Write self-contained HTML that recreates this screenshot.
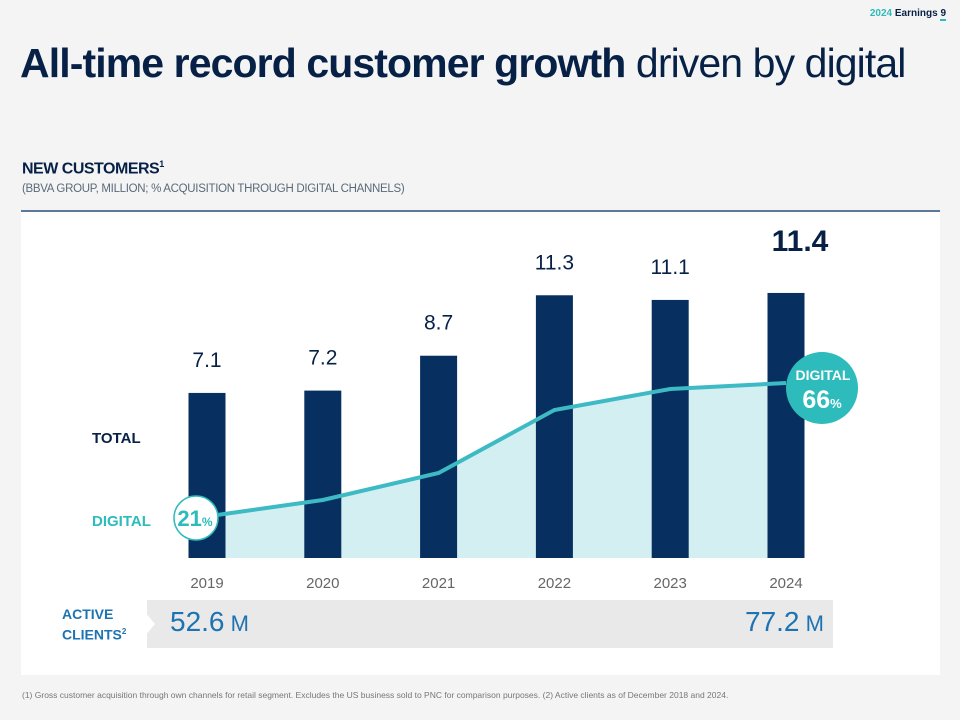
<!DOCTYPE html>
<html><head><meta charset="utf-8"><style>
body{margin:0;width:960px;height:720px;background:#f4f4f4;font-family:"Liberation Sans",sans-serif;position:relative;overflow:hidden}
.a{position:absolute}
</style></head><body>
<div class="a" style="right:14px;top:8px;font-size:10px;font-weight:bold;color:#072146"><span style="color:#2dbbbb">2024</span> Earnings <span style="border-bottom:2px solid #2dbbbb">9</span></div>
<div class="a" style="left:20px;top:40px;font-size:41px;color:#072146;letter-spacing:-0.9px"><b>All-time record customer growth</b> driven by digital</div>
<div class="a" style="left:22px;top:159px;font-size:16px;font-weight:bold;color:#072146;letter-spacing:-0.5px">NEW CUSTOMERS<sup style="font-size:9px">1</sup></div>
<div class="a" style="left:22px;top:183px;font-size:11.5px;color:#5a6a7a;letter-spacing:-0.3px">(BBVA GROUP, MILLION; % ACQUISITION THROUGH DIGITAL CHANNELS)</div>
<div class="a" style="left:21px;top:210px;width:919px;height:463px;background:#fff;border-top:2px solid #5b7a9a"></div>
<svg class="a" style="left:0;top:0" width="960" height="720" id="chart"></svg>
<div class="a" style="left:92px;top:430px;font-size:15px;font-weight:bold;color:#072146">TOTAL</div>
<div class="a" style="left:92px;top:513px;font-size:15px;font-weight:bold;color:#2dbbbb">DIGITAL</div>
<div class="a" style="left:147px;top:600px;width:686px;height:48px;background:#e9e9e9"></div>
<div class="a" style="left:53px;top:600px;width:92px;height:48px;background:#fff;font-size:14px;font-weight:bold;color:#1d73b2;line-height:17px;padding:6px 0 0 9px;box-sizing:border-box">ACTIVE<br>CLIENTS<sup style="font-size:8px">2</sup></div>
<div class="a" style="left:145px;top:612px;width:0;height:0;border-top:12px solid transparent;border-bottom:12px solid transparent;border-left:10px solid #fff"></div>
<div class="a" style="left:170px;top:606px;font-size:28px;color:#1d73b2">52.6<span style="font-size:22px"> M</span></div>
<div class="a" style="left:745px;top:606px;font-size:28px;color:#1d73b2">77.2<span style="font-size:22px"> M</span></div>
<div class="a" style="left:22px;top:690px;font-size:8.5px;color:#777">(1) Gross customer acquisition through own channels for retail segment. Excludes the US business sold to PNC for comparison purposes. (2) Active clients as of December 2018 and 2024.</div>
<script>
const years=["2019","2020","2021","2022","2023","2024"];
const totals=[7.1,7.2,8.7,11.3,11.1,11.4];
const digitalPct=[21,27,36,57,64,66];
const svg=document.getElementById('chart');const NS='http://www.w3.org/2000/svg';
const x=i=>207+i*115.8, y=v=>558-v*23.25, yp=p=>581-p*3;
function mk(t,a,txt){const e=document.createElementNS(NS,t);for(const k in a)e.setAttribute(k,a[k]);if(txt!=null)e.textContent=txt;svg.appendChild(e);return e;}
let pts=digitalPct.map((p,i)=>(i===0?x(i)-11:x(i))+','+yp(p));
const area=mk('polygon',{points:pts.join(' ')+' '+x(5)+',558 '+(x(0)-11)+',558',fill:'#d3eff1'});


years.forEach((yr,i)=>{
const b=mk('rect',{x:x(i)-18.5,y:y(totals[i]),width:37,height:558-y(totals[i]),fill:'#072f5f'});


const last=i===years.length-1;
const l=mk('text',{x:x(i)+(last?14:0),y:y(totals[i])-(last?42:26),'text-anchor':'middle','font-size':last?30:21,'font-weight':last?'bold':'normal',fill:'#072146','font-family':'Liberation Sans'},totals[i].toFixed(1));


const t=mk('text',{x:x(i),y:588,'text-anchor':'middle','font-size':15,fill:'#666','font-family':'Liberation Sans'},yr);


});
const line=mk('polyline',{points:pts.join(' '),fill:'none',stroke:'#3dbac4','stroke-width':4});


const c1=mk('circle',{cx:x(0)-11,cy:yp(digitalPct[0]),r:22,fill:'#fff',stroke:'#2dbbbb','stroke-width':1.5});


const t1=mk('text',{x:x(0)-12,y:yp(digitalPct[0])+8,'text-anchor':'middle','font-size':22,'font-weight':'bold',fill:'#2dbbbb','font-family':'Liberation Sans'});
t1.innerHTML=digitalPct[0]+'<tspan font-size="12">%</tspan>';


const c2=mk('circle',{cx:x(5)+36,cy:yp(digitalPct[5])+5,r:36,fill:'#2dbbbb'});


const t2=mk('text',{x:x(5)+37,y:yp(digitalPct[5])-3,'text-anchor':'middle','font-size':14,'font-weight':'bold',fill:'#fff','font-family':'Liberation Sans'},'DIGITAL');


const t3=mk('text',{x:x(5)+36,y:yp(digitalPct[5])+25,'text-anchor':'middle','font-size':25,'font-weight':'bold',fill:'#fff','font-family':'Liberation Sans'});
t3.innerHTML=digitalPct[5]+'<tspan font-size="13">%</tspan>';


</script>
</body></html>
